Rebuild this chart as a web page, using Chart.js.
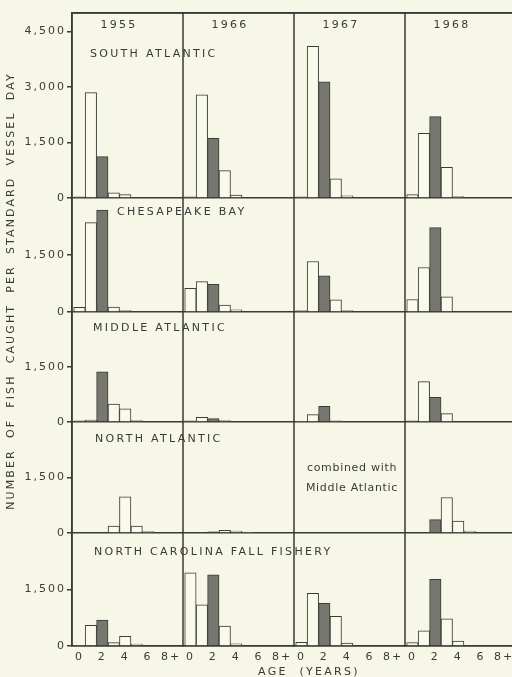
<!DOCTYPE html>
<html lang="en">
<head>
<meta charset="UTF-8">
<title>Fish caught per standard vessel day</title>
<script src="https://cdn.jsdelivr.net/npm/chart.js@4/dist/chart.umd.min.js"></script>
<style>
  html, body { margin: 0; padding: 0; background: #f7f7e7; overflow: hidden; }
  #wrap { position: relative; width: 516px; height: 677px; }
</style>
</head>
<body>
<div id="wrap"><canvas id="myChart"></canvas></div>
<script>
    // ages 0..8 (8 = 8+), one array per year: 1955, 1966, 1967, 1968
    const ages = [0, 1, 2, 3, 4, 5, 6, 7, 8];
    const years = ['1955', '1966', '1967', '1968'];
    const regions = ['SOUTH ATLANTIC', 'CHESAPEAKE BAY', 'MIDDLE ATLANTIC', 'NORTH ATLANTIC', 'NORTH CAROLINA FALL FISHERY'];

    const southAtlantic = [
        [30, 2850, 1120, 140, 90, 0, 0, 0, 0],
        [30, 2790, 1610, 740, 80, 0, 0, 0, 0],
        [30, 4100, 3140, 520, 60, 0, 0, 0, 0],
        [90, 1750, 2200, 830, 40, 0, 0, 0, 0]
    ];
    const chesapeakeBay = [
        [120, 2350, 2680, 130, 40, 0, 0, 0, 0],
        [620, 800, 730, 180, 60, 0, 0, 0, 0],
        [40, 1330, 950, 320, 40, 0, 0, 0, 0],
        [330, 1170, 2220, 400, 0, 0, 0, 0, 0]
    ];
    const middleAtlantic = [
        [30, 50, 1370, 490, 360, 40, 0, 0, 0],
        [30, 130, 90, 40, 0, 0, 0, 0, 0],
        [20, 200, 430, 30, 0, 0, 0, 0, 0],
        [30, 1100, 670, 230, 0, 0, 0, 0, 0]
    ];
    const northAtlantic = [
        [0, 0, 0, 190, 980, 190, 40, 0, 0],
        [0, 0, 30, 70, 50, 20, 0, 0, 0],
        null, // combined with Middle Atlantic
        [0, 0, 360, 960, 320, 50, 0, 0, 0]
    ];
    const northCarolina = [
        [20, 550, 690, 90, 260, 50, 0, 0, 0],
        [1940, 1090, 1890, 530, 60, 0, 0, 0, 0],
        [100, 1400, 1130, 790, 80, 0, 0, 0, 0],
        [90, 400, 1770, 720, 130, 0, 0, 0, 0]
    ];
    const rowMax = [5000, 3000, 3000, 3000, 3000];
    const rowTicks = [[0, 1500, 3000, 4500], [0, 1500], [0, 1500], [0, 1500], [0, 1500]];

    const rows = [southAtlantic, chesapeakeBay, middleAtlantic, northAtlantic, northCarolina];
    const rowHeights = [185, 114, 110, 111, 113];
    const labelSpots = [[90, 41], [117, 14], [93, 16], [95, 17], [94, 19]];

    const ink = '#3a3a36';
    const paper = '#f9f9ec';
    const shade = '#77776f';
    const font = { family: "'DejaVu Sans', sans-serif", size: 11 };

    const scales = {};
    years.forEach((yr, c) => {
        scales['x' + c] = {
            type: 'linear',
            position: 'bottom',
            stack: 'cols',
            stackWeight: 1,
            weight: c,
            offset: false,
            min: -0.65,
            max: 9.05,
            afterBuildTicks: (s) => { s.ticks = [0, 2, 4, 6, 8].map(v => ({ value: v })); },
            afterFit: (s) => { s.height = 31; s.paddingLeft = 0; s.paddingRight = 0; },
            grid: { display: false, drawTicks: false },
            border: { display: true, color: ink, width: 1.5 },
            ticks: {
                autoSkip: false, maxRotation: 0, padding: 5, color: ink, font: font,
                callback: (v) => v === 8 ? '8+' : String(v)
            }
        };
    });
    regions.forEach((name, r) => {
        scales['y' + r] = {
            type: 'linear',
            position: 'left',
            stack: 'rows',
            stackWeight: rowHeights[r],
            weight: 10 - r,
            min: 0,
            max: rowMax[r],
            afterBuildTicks: (s) => {
                const t = r === 0 ? rowTicks[r].concat([rowMax[r]]) : rowTicks[r];
                s.ticks = t.map(v => ({ value: v }));
            },
            afterFit: (s) => { s.width = 72; s.paddingTop = 0; s.paddingBottom = 0; },
            grid: {
                lineWidth: 1.5,
                tickLength: 5,
                color: (ctx) => (ctx.tick && (ctx.tick.value === 0 || ctx.tick.value === 5000)) ? ink : 'rgba(0,0,0,0)',
                tickColor: (ctx) => (ctx.tick && ctx.tick.value === rowMax[r]) ? 'rgba(0,0,0,0)' : ink
            },
            border: { display: true, color: ink, width: 1.5 },
            ticks: {
                padding: 1, color: ink, font: font,
                callback: (v) => rowTicks[r].includes(v) ? v.toLocaleString('en-US') : ''
            }
        };
    });

    const datasets = [];
    rows.forEach((row, r) => {
        row.forEach((vals, c) => {
            if (!vals) return;
            datasets.push({
                label: regions[r] + ' ' + years[c],
                data: ages.map((a, i) => ({ x: a, y: vals[i] })),
                xAxisID: 'x' + c,
                yAxisID: 'y' + r,
                backgroundColor: ages.map(a => a === 2 ? shade : paper),
                borderColor: ink,
                borderWidth: 1,
                grouped: false,
                barPercentage: 1,
                categoryPercentage: 1
            });
        });
    });

    // column dividers and all free text
    const lettering = {
        id: 'lettering',
        beforeDraw(chart) { chart.ctx.letterSpacing = '2px'; },
        beforeDatasetsDraw(chart) {
            const { ctx, chartArea } = chart;
            ctx.save();
            ctx.strokeStyle = ink;
            ctx.lineWidth = 1.5;
            years.forEach((yr, c) => {
                const x = chart.scales['x' + c].left;
                ctx.beginPath();
                ctx.moveTo(x, chartArea.top);
                ctx.lineTo(x, chartArea.bottom);
                ctx.stroke();
            });
            ctx.beginPath();
            ctx.moveTo(chartArea.left, chartArea.top);
            ctx.lineTo(chartArea.right, chartArea.top);
            ctx.stroke();
            ctx.restore();
        },
        afterDraw(chart) {
            const ctx = chart.ctx;
            ctx.save();
            ctx.fillStyle = ink;
            ctx.font = "11px 'DejaVu Sans', sans-serif";
            ctx.letterSpacing = '2.3px';
            ctx.textBaseline = 'middle';
            ctx.textAlign = 'center';
            years.forEach((yr, c) => ctx.fillText(yr, chart.scales['x' + c].left + 47, 25));
            ctx.textAlign = 'left';
            regions.forEach((name, r) => {
                ctx.fillText(name, labelSpots[r][0], chart.scales['y' + r].top + labelSpots[r][1]);
            });
            ctx.textAlign = 'center';
            ctx.fillText('AGE  (YEARS)', 309, 672);
            ctx.save();
            ctx.translate(11, 291);
            ctx.rotate(-Math.PI / 2);
            ctx.letterSpacing = '2.1px';
            ctx.fillText('NUMBER  OF  FISH  CAUGHT  PER  STANDARD  VESSEL  DAY', 0, 0);
            ctx.restore();
            ctx.letterSpacing = '0.7px';
            const mid = chart.scales.x2.left + 58;
            ctx.fillText('combined with', mid, 468);
            ctx.fillText('Middle Atlantic', mid, 488);
            ctx.restore();
        }
    };

    const ctx = document.getElementById('myChart').getContext('2d');
    const chart = new Chart(ctx, {
        type: 'bar',
        data: { datasets: datasets },
        options: {
            responsive: true,
            maintainAspectRatio: false,
            animation: false,
            layout: { padding: { top: 13, left: 0, right: 0, bottom: 0 } },
            plugins: { legend: { display: false }, tooltip: { enabled: false } },
            scales: scales
        },
        plugins: [lettering]
    });
</script>
</body>
</html>
